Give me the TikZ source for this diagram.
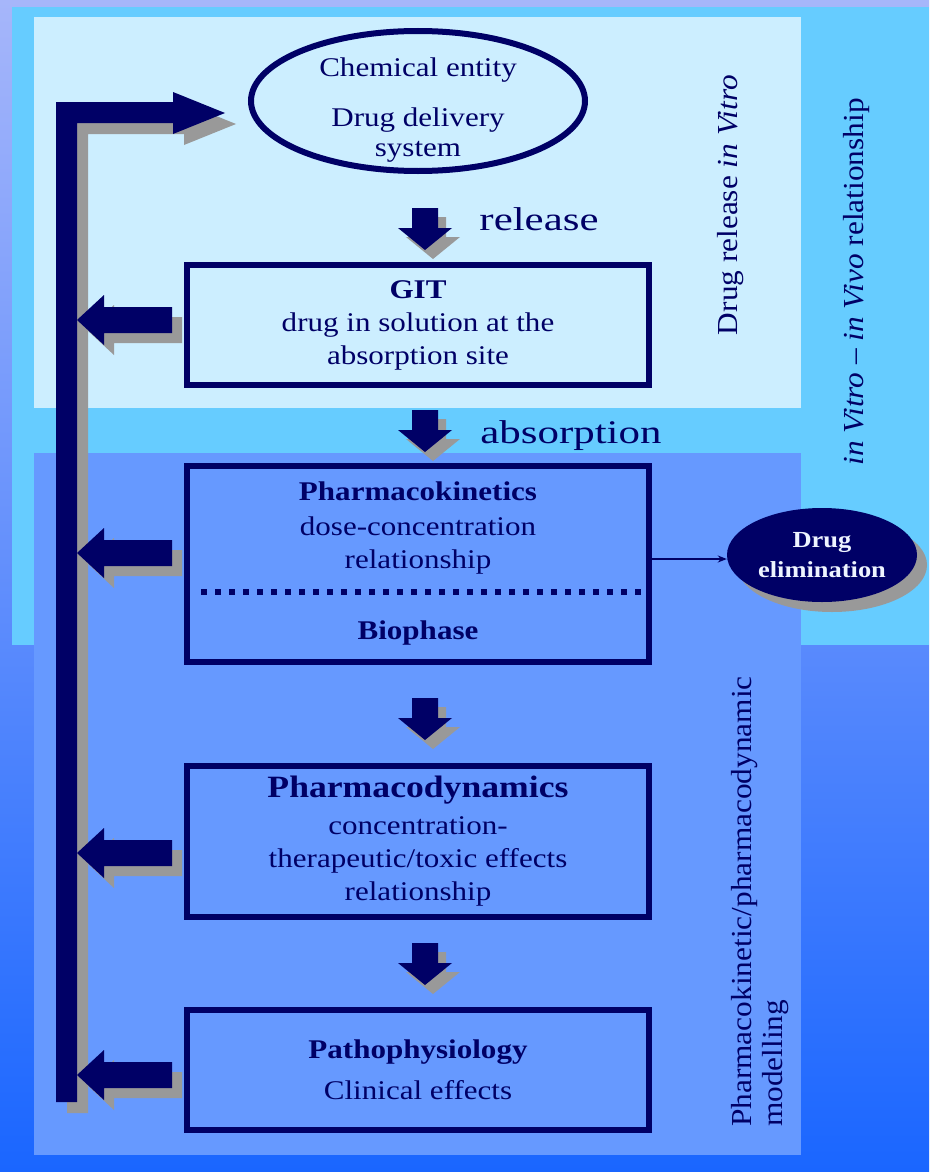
\documentclass[tikz,border=0pt]{standalone}
\usepackage{fontspec}
\setmainfont{Liberation Serif}
\newfontfamily\boxfont[FakeStretch=1.15]{Liberation Serif}
\newfontfamily\lblfont[FakeStretch=1.3]{Liberation Serif}
\newfontfamily\vertfont[FakeStretch=1.08]{Liberation Serif}
\usetikzlibrary{shadows,arrows.meta,calc,shapes.geometric}
\definecolor{navy}{HTML}{000066}
\definecolor{shgray}{HTML}{999999}
\definecolor{skyb}{HTML}{66CCFF}
\definecolor{paleb}{HTML}{CCEEFF}
\definecolor{midb}{HTML}{6699FF}
\definecolor{bgtop}{HTML}{A6B6FA}
\definecolor{bgbot}{HTML}{1A66FF}
\definecolor{elimtext}{HTML}{EEF4FF}
\tikzset{
  dnarrow/.pic={
    \fill[shgray,shift={(8,9)}] (-13,0) -- (13,0) -- (13,20) -- (27,20) -- (0,42) -- (-27,20) -- (-13,20) -- cycle;
    \fill[navy] (-13,0) -- (13,0) -- (13,20) -- (27,20) -- (0,42) -- (-27,20) -- (-13,20) -- cycle;
  },
  lfarrow/.pic={
    \fill[shgray,shift={(10,10)}] (0,0) -- (27,-25) -- (27,-13) -- (95,-13) -- (95,13) -- (27,13) -- (27,25) -- cycle;
    \fill[navy] (0,0) -- (27,-25) -- (27,-13) -- (95,-13) -- (95,13) -- (27,13) -- (27,25) -- cycle;
  },
  boxstyle/.style={draw=navy, line width=6pt, minimum width=462pt, inner sep=0pt,
    text=navy, align=center, font=\boxfont\fontsize{27}{33}\selectfont},
  boxtext/.style={text=navy, align=center, inner sep=0pt, font=\boxfont\fontsize{27}{33}\selectfont},
  vtext/.style={text=navy, rotate=90, inner sep=0pt, font=\vertfont\fontsize{29}{31}\selectfont},
  lbl/.style={text=navy, inner sep=0pt, font=\lblfont\fontsize{33}{36}\selectfont},
}
\begin{document}
\begin{tikzpicture}[x=1pt,y=-1pt]
\useasboundingbox (0,0) rectangle (929,1172);
% backgrounds
\shade[top color=bgtop, bottom color=bgbot] (0,0) rectangle (929,1172);
\fill[skyb] (12,7) rectangle (929,645);
\fill[paleb] (34,17) rectangle (801,408);
\fill[midb] (34,453) rectangle (801,1155);
% feedback bracket
\fill[shgray,shift={(11,11)}] (56,1102) -- (56,102) -- (173,102) -- (173,92) -- (225,113) -- (173,134) -- (173,123) -- (77,123) -- (77,1102) -- cycle;
\fill[navy] (56,1102) -- (56,102) -- (173,102) -- (173,92) -- (225,113) -- (173,134) -- (173,123) -- (77,123) -- (77,1102) -- cycle;
\pic at (77,320) {lfarrow};
\pic at (77,553) {lfarrow};
\pic at (77,853) {lfarrow};
\pic at (77,1075) {lfarrow};
% down arrows
\pic at (425,208) {dnarrow};
\pic at (425,410) {dnarrow};
\pic at (425,698) {dnarrow};
\pic at (425,943) {dnarrow};
% ellipse
\node[draw=navy, line width=6pt, ellipse, minimum width=334pt, minimum height=140pt, inner sep=0pt] (chem) at (418,101) {};
\node[boxtext] (chemtxt) at (418,110) {Chemical entity\\[17pt]Drug delivery\\[-3pt]system};
% boxes
\node[boxstyle, minimum height=120pt] (git) at (418,325) {\textbf{GIT}\\drug in solution at the\\absorption site};
\node[boxstyle, minimum height=196pt] (pk) at (418,564) {};
\node[boxtext] (pktxt) at (418,528) {\textbf{Pharmacokinetics}\\[2pt]dose-concentration\\relationship};
\draw[navy, line width=6pt, dash pattern=on 6pt off 8pt] ($(pk.west)+(17,28)$) -- ($(pk.east)+(-6,28)$);
\node[boxtext, font=\boxfont\bfseries\fontsize{27}{33}\selectfont] (bio) at (418,633) {Biophase};
\node[boxstyle, minimum height=151pt] (pd) at (418,841.5) {{\fontsize{31}{33}\selectfont\textbf{Pharmacodynamics}}\\[4pt]concentration-\\therapeutic/toxic effects\\relationship};
\node[boxstyle, minimum height=120pt] (patho) at (418,1070) {\textbf{Pathophysiology}\\[8pt]Clinical effects};
% labels
\node[lbl, anchor=base] (rel) at (539,230) {release};
\node[lbl, anchor=base] (abs) at (571,443) {absorption};
% elimination
\node[ellipse, fill=navy, minimum width=190pt, minimum height=94pt, inner sep=0pt, text=elimtext, align=center,
  font=\boxfont\bfseries\fontsize{23}{30}\selectfont,
  drop shadow={shadow xshift=10pt, shadow yshift=-10pt, fill=shgray, opacity=1}] (elim) at (822,555) {Drug\\elimination};
\draw[navy, line width=1.5pt, -{Stealth[length=9pt,width=7pt]}] (pk.east |- 0,559) -- (elim.west |- 0,559);
% vertical texts
\node[vtext] (vitro) at (731,205) {Drug release \textit{in Vitro}};
\node[vtext] (ivivc) at (857,282) {\textit{in Vitro} – \textit{in Vivo} relationship};
\node[vtext, anchor=west, align=left] (pkpd) at (760,1127) {Pharmacokinetic/pharmacodynamic\\modelling};
\end{tikzpicture}
\end{document}
